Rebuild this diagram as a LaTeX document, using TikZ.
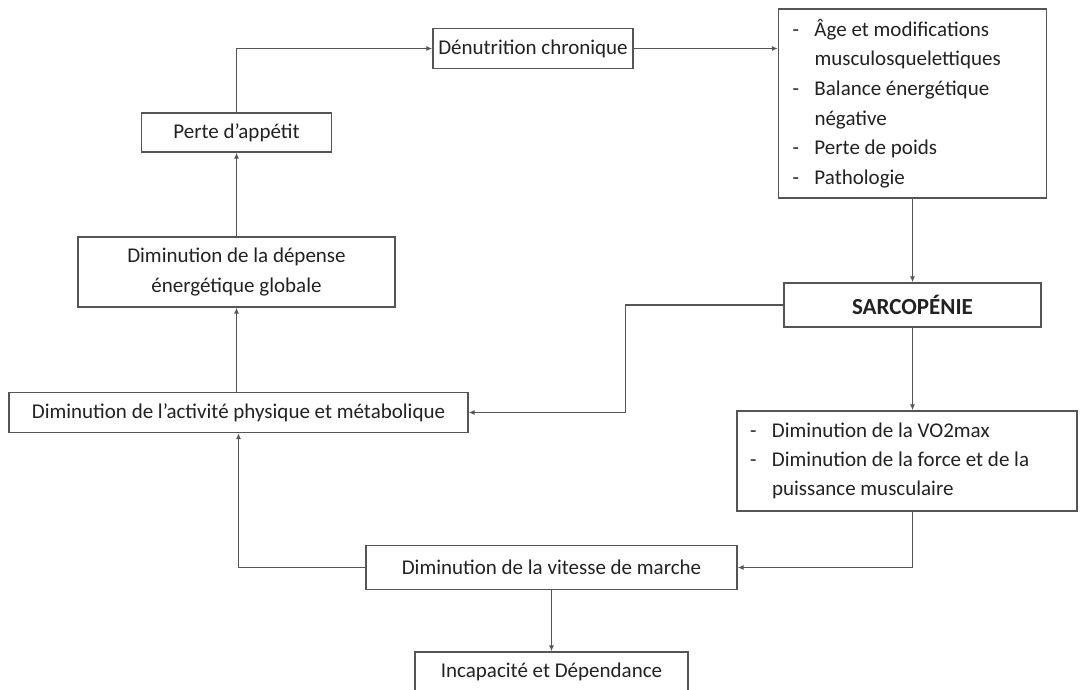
\documentclass[tikz,border=0pt]{standalone}
\usepackage{fontspec}
\setmainfont{Carlito}
\usetikzlibrary{arrows.meta}
\definecolor{lc}{HTML}{555555}
\definecolor{tc}{HTML}{222222}
\tikzset{
  box/.style={draw=lc, line width=1.4pt, fill=white, text=tc, inner sep=0pt, align=center,
    font=\fontsize{21}{30}\selectfont},
  lbox/.style={box, align=flush left, anchor=center},
  arr/.style={draw=lc, line width=1.4pt, -{Latex[length=6pt,width=5pt]}}
}
\newcommand{\dsh}{\makebox[22pt][l]{-}}
\newcommand{\ind}{\hspace*{22pt}}
\begin{document}
\begin{tikzpicture}[x=1pt,y=-1pt]
\useasboundingbox (0,0) rectangle (1080,689);
\node[box, minimum width=190pt, minimum height=39pt] (perte) at (236.5,132.5) {Perte d’appétit};
\node[box, minimum width=200pt, minimum height=40pt] (denut) at (533,48.5) {Dénutrition chronique};
\node[lbox, minimum width=268pt, minimum height=189pt, text width=240pt, inner xsep=14pt,
  font=\fontsize{21}{29.6}\selectfont] (list) at (912.5,103.5)
  {\dsh Âge et modifications\\ \ind musculosquelettiques\\ \dsh Balance énergétique\\ \ind négative\\ \dsh Perte de poids\\ \dsh Pathologie};
\node[box, minimum width=257pt, minimum height=44pt, font=\fontsize{23}{26}\selectfont\bfseries] (sarc) at (912.5,305) {SARCOPÉNIE};
\node[lbox, minimum width=340pt, minimum height=100pt, text width=314pt, inner xsep=13pt,
  font=\fontsize{21}{29}\selectfont] (vo2) at (907,461)
  {\dsh Diminution de la VO2max\\ \dsh Diminution de la force et de la\\ \ind puissance musculaire};
\node[box, minimum width=459pt, minimum height=40pt] (act) at (238.5,412.5) {Diminution de l’activité physique et métabolique};
\node[box, minimum width=317pt, minimum height=70pt] (dep) at (236.5,272) {Diminution de la dépense\\énergétique globale};
\node[box, minimum width=371pt, minimum height=44pt] (vit) at (551.5,567.5) {Diminution de la vitesse de marche};
\node[box, minimum width=273pt, minimum height=40pt] (inc) at (551.5,672) {Incapacité et Dépendance};

\draw[arr] (perte.north) |- (denut.west);
\draw[arr] (denut.east) -- (denut.east -| list.west);
\draw[arr] (list.south) -- (list.south |- sarc.north);
\draw[arr] (sarc.west) -- ++(-158,0) |- (act.east);
\draw[arr] (sarc.south) -- (sarc.south |- vo2.north);
\draw[arr] (vo2.south -| sarc.south) |- (vit.east);
\draw[arr] (vit.west) -| (act.south);
\draw[arr] (dep.south |- act.north) -- (dep.south);
\draw[arr] (dep.north) -- (perte.south);
\draw[arr] (vit.south) -- (vit.south |- inc.north);
\end{tikzpicture}
\end{document}
